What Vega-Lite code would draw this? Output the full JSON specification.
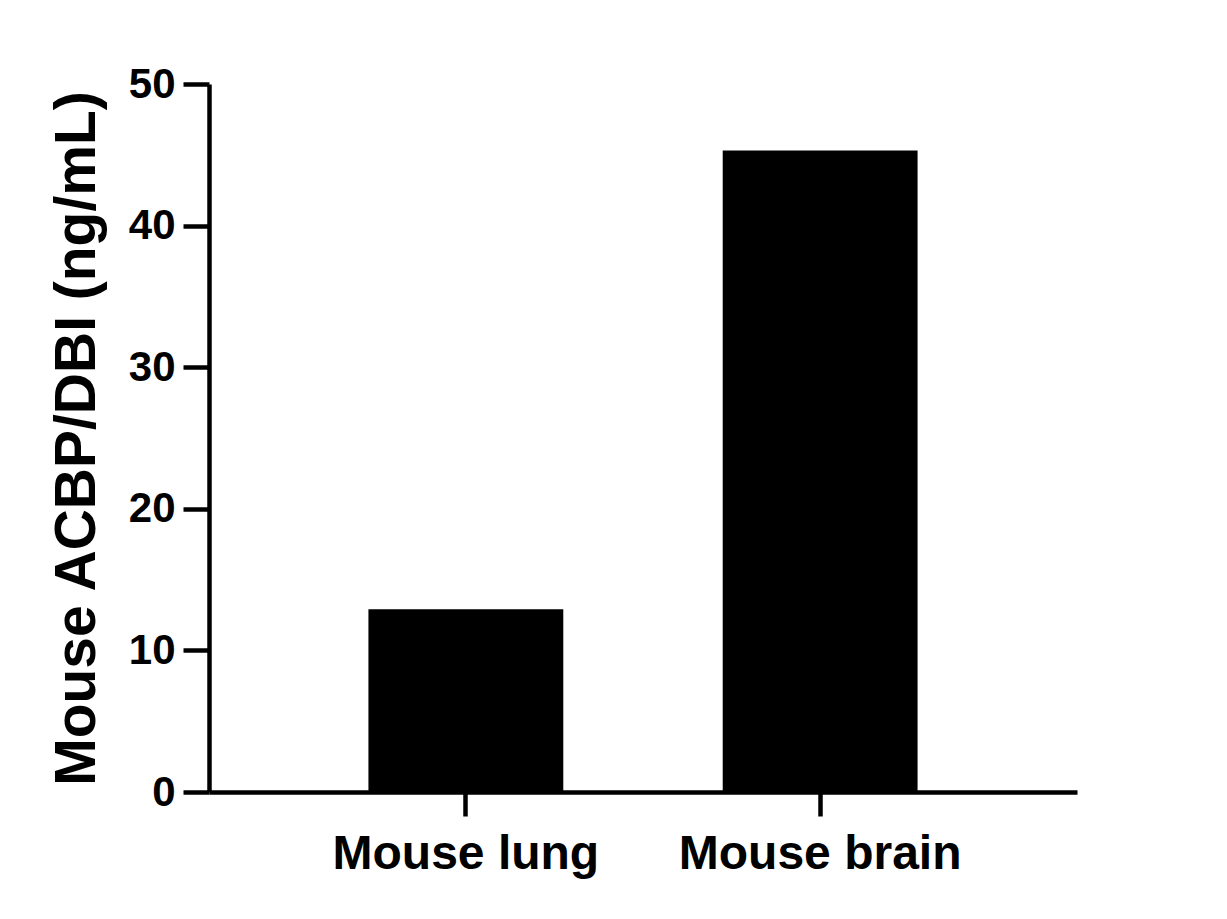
{
  "$schema": "https://vega.github.io/schema/vega-lite/v6.json",
  "width": 868,
  "height": 708,
  "autosize": {"type": "none"},
  "padding": {"left": 209, "top": 84, "right": 150, "bottom": 127},
  "background": "white",
  "config": {
    "view": {"stroke": null},
    "axis": {
      "font": "Liberation Sans",
      "labelFont": "Liberation Sans",
      "titleFont": "Liberation Sans",
      "labelFontWeight": "bold",
      "titleFontWeight": "bold",
      "labelColor": "black",
      "titleColor": "black",
      "domainColor": "black",
      "tickColor": "black",
      "domainWidth": 4.5,
      "tickWidth": 4.5,
      "grid": false
    }
  },
  "data": {
    "values": [
      {"Sample": "Mouse lung", "Value": 12.9},
      {"Sample": "Mouse brain", "Value": 45.3}
    ]
  },
  "mark": {"type": "bar", "color": "black"},
  "encoding": {
    "x": {
      "field": "Sample",
      "type": "nominal",
      "sort": null,
      "title": null,
      "scale": {"paddingInner": 0.45, "paddingOuter": 0.45},
      "axis": {
        "labelAngle": 0,
        "labelFontSize": 48,
        "labelLimit": 0,
        "tickSize": 24,
        "labelPadding": 14
      }
    },
    "y": {
      "field": "Value",
      "type": "quantitative",
      "title": "Mouse ACBP/DBI (ng/mL)",
      "scale": {"domain": [0, 50], "nice": false},
      "axis": {
        "values": [0, 10, 20, 30, 40, 50],
        "labelFontSize": 42,
        "titleFontSize": 57,
        "tickSize": 26,
        "labelPadding": 8,
        "titlePadding": 22
      }
    }
  }
}
